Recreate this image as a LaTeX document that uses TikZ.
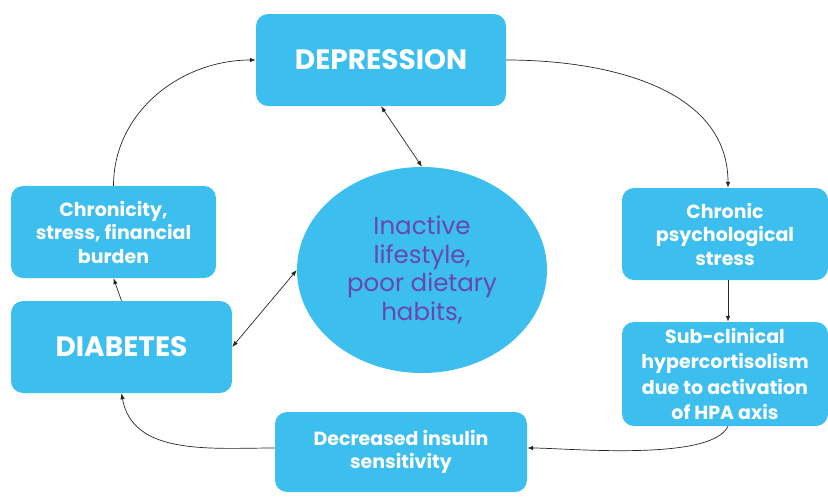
\documentclass[tikz,border=0pt]{standalone}
\usepackage{fontspec}
\setmainfont{Poppins}
\usepackage{tikz}
\usetikzlibrary{arrows.meta,shapes.geometric}
\definecolor{boxblue}{RGB}{60,190,238}
\definecolor{lifepurple}{RGB}{104,72,168}

\begin{document}
\begin{tikzpicture}[x=1pt, y=-1pt,
    box/.style={rectangle, rounded corners=12pt, fill=boxblue, text=white, font=\bfseries\fontsize{19}{23.5}\selectfont, align=center, inner sep=0pt},
    bigbox/.style={box, font=\bfseries\fontsize{28}{32}\selectfont},
    link/.style={draw=black!85, line width=0.7pt, -{Latex[length=6pt,width=4.5pt]}},
    twoway/.style={link, {Latex[length=6pt,width=4.5pt]}-{Latex[length=6pt,width=4.5pt]}}]
                \useasboundingbox (0,0) rectangle (828,496);
                \node[bigbox, minimum width=250pt, minimum height=92pt] (dep) at (381,60) {DEPRESSION};
                \node[box, minimum width=205pt, minimum height=92pt] (chron) at (113.5,232) {Chronicity,\\stress, financial\\burden};
                \node[bigbox, minimum width=221pt, minimum height=92pt] (diab) at (121.5,347) {DIABETES};
                \node[ellipse, fill=boxblue, text=lifepurple, minimum width=250pt, minimum height=206pt, inner sep=0pt, align=center, font=\fontsize{24.5}{28.5}\selectfont] (life) at (422,270) {Inactive\\lifestyle,\\poor dietary\\habits,};
                \node[box, minimum width=206pt, minimum height=92pt] (stress) at (725,234) {Chronic\\psychological\\stress};
                \node[box, minimum width=206pt, minimum height=104pt, font=\bfseries\fontsize{19}{25.5}\selectfont] (hpa) at (725,374) {Sub-clinical\\hypercortisolism\\due to activation\\of HPA axis};
                \node[box, minimum width=252pt, minimum height=80pt] (insulin) at (401,452) {Decreased insulin\\sensitivity};
                % cycle
                \draw[link] (chron.north) to[out=90, in=180] (dep.west);
                \draw[link] (dep.east) to[out=0, in=90] ([xshift=3pt]stress.north);
                \draw[link] ([xshift=3pt]stress.south) -- ([xshift=3pt]hpa.north);
                \draw[link] ([xshift=3pt]hpa.south) to[out=-115, in=0, looseness=0.5] ([yshift=4pt]insulin.east);
                \draw[link] ([yshift=4pt]insulin.west) to[out=180, in=-80] (diab.south);
                \draw[link] (diab.north) -- (chron.south);
                % lifestyle
                \draw[twoway] (dep.south) -- (life.north);
                \draw[twoway] (life.west) -- (diab.east);
            \end{tikzpicture}
\end{document}
